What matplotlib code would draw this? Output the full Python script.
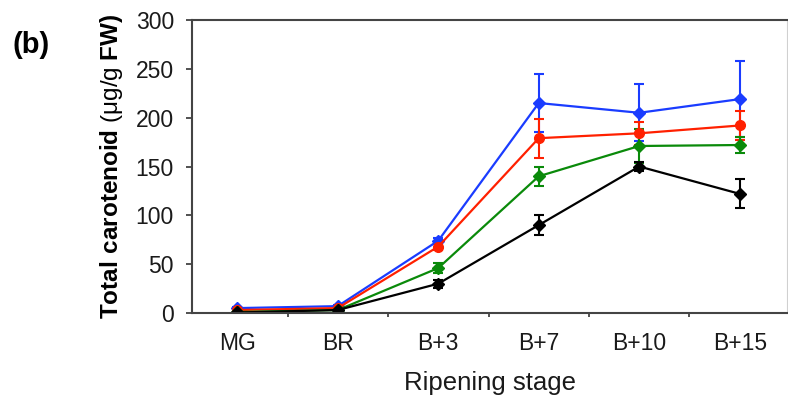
import matplotlib
matplotlib.use("Agg")
import matplotlib.pyplot as plt
import numpy as np

plt.rcParams['font.family'] = ['Liberation Sans', 'DejaVu Sans']
plt.rcParams['mathtext.fontset'] = 'custom'
plt.rcParams['mathtext.rm'] = 'Liberation Sans'
plt.rcParams['mathtext.bf'] = 'Liberation Sans:bold'

# Ripening stages
stages = ["MG", "BR", "B+3", "B+7", "B+10", "B+15"]

# Total carotenoid (ug/g FW) for each line, with standard errors
blue_vals = [5, 7, 74, 215, 205, 219]
blue_err = [1, 1, 3, 30, 29, 39]
red_vals = [3, 5, 68, 179, 184, 192]
red_err = [1, 1, 3, 20, 12, 15]
green_vals = [1, 3, 46, 140, 171, 172]
green_err = [0.5, 1, 5, 10, 17, 8]
black_vals = [0.5, 3, 30, 90, 150, 122]
black_err = [0.5, 1, 4, 10, 5, 15]

series = [
    (blue_vals, blue_err, "#1a3cff", "D", 6.3),
    (red_vals, red_err, "#ff2000", "o", 7),
    (green_vals, green_err, "#0a8a0a", "D", 6.3),
    (black_vals, black_err, "#000000", "D", 6.3),
]

fig = plt.figure(figsize=(7.88, 3.98), dpi=100)
ax = fig.add_axes([0.2437, 0.2136, 0.7550, 0.7361])

x = np.arange(len(stages))
for vals, err, col, mk, ms in series:
    ax.errorbar(x, vals, yerr=err, color=col, marker=mk, markersize=ms,
                linewidth=1.6, elinewidth=1.5, capsize=3.5, capthick=1.5)

ax.set_xlim(-0.45, 5.47)
ax.set_ylim(0, 300)
ax.set_yticks(np.arange(0, 301, 50))
ax.set_xticks(x)
ax.set_xticklabels(stages)
ax.set_xticks(np.arange(0.5, 5.0, 1.0), minor=True)
ax.tick_params(axis='x', which='major', length=0, pad=14, labelsize=16.5,
               labelcolor='#1a1a1a')
ax.tick_params(axis='x', which='minor', length=3, width=1.2, direction='out', color='#333333')
ax.tick_params(axis='y', length=4, width=1.2, direction='out', labelsize=16.5,
               color='#333333', pad=9, labelcolor='#1a1a1a')

for side in ['left', 'bottom', 'top']:
    ax.spines[side].set_color('#444444')
    ax.spines[side].set_linewidth(1.5)
ax.spines['right'].set_color('#d0d0d0')
ax.spines['right'].set_linewidth(0.8)

ax.set_xlabel("Ripening stage", fontsize=18.5, labelpad=11, color='#1a1a1a')
ax.set_ylabel(r"$\mathbf{Total\ carotenoid}$ (μg/g $\mathbf{FW)}$", fontsize=17.5,
              labelpad=8)

fig.text(0.016, 0.888, "(b)", fontsize=21, fontweight='bold', ha='left', va='center')

fig.savefig("out.png", dpi=100)
